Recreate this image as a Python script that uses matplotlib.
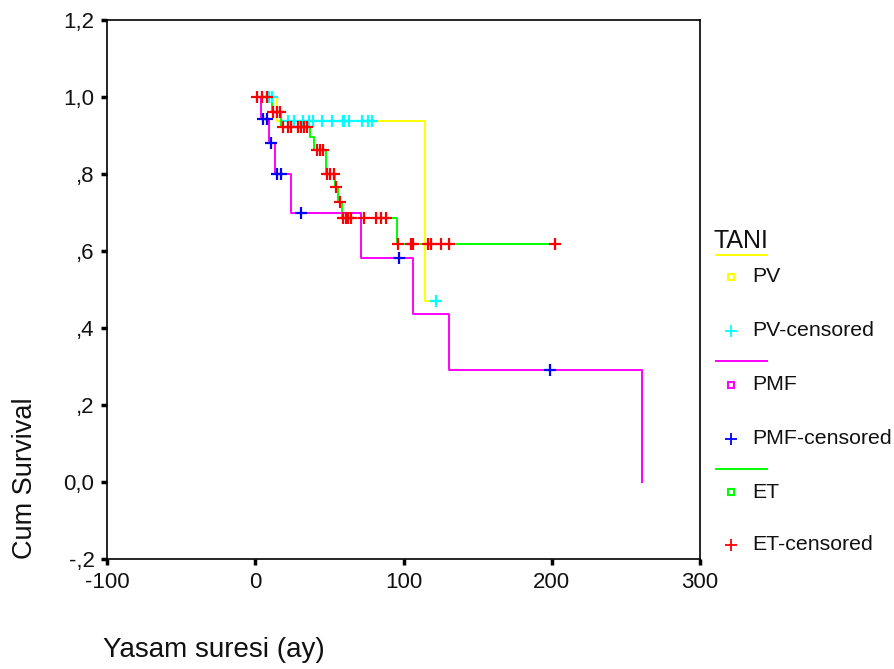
import numpy as np
import matplotlib
matplotlib.use("Agg")
import matplotlib.pyplot as plt

plt.rcParams['font.family'] = ['Liberation Sans', 'DejaVu Sans']

# ---- data (months, cumulative survival) ----
groups = ["PV", "PMF", "ET"]

pv_event_t = [15, 114.5]
pv_event_s = [0.9375, 0.469]
pv_cens_t = [9.5, 11, 22, 26, 32, 36, 39, 45, 52, 59, 60, 63, 72, 76, 79, 122]

pmf_event_t = [4, 9, 13, 24, 71.5, 106.5, 131, 261]
pmf_event_s = [0.944, 0.881, 0.80, 0.70, 0.583, 0.4375, 0.292, 0.0]
pmf_cens_t = [5.5, 8, 10.5, 15, 17.3, 31, 97, 199]

et_event_t = [11, 17.5, 37, 39.5, 47.5, 53.5, 56, 58.5, 95.5]
et_event_s = [0.962, 0.923, 0.896, 0.862, 0.80, 0.765, 0.727, 0.686, 0.618]
et_cens_t = [1.5, 4.5, 8, 12, 14.5, 16.5, 19, 22, 24, 28.5, 31, 33, 35,
             41.5, 43.5, 45.5, 48.5, 50.5, 53, 54.5, 57, 59.5, 61, 62.5,
             64.5, 73.5, 81.5, 85, 88, 96, 105, 106.5, 116.5, 118.5, 125.5,
             131, 202.5]

yticks = [-0.2, 0.0, 0.2, 0.4, 0.6, 0.8, 1.0, 1.2]
ytick_labels = ["-,2", "0,0", ",2", ",4", ",6", ",8", "1,0", "1,2"]
xticks = [-100, 0, 100, 200, 300]
xtick_labels = ["-100", "0", "100", "200", "300"]

line_colors = {"PV": "#FFFF00", "PMF": "#FF00FF", "ET": "#00FF00"}
cens_colors = {"PV": "#00FFFF", "PMF": "#0000FF", "ET": "#FF0000"}

data = {
    "PV": (pv_event_t, pv_event_s, pv_cens_t),
    "PMF": (pmf_event_t, pmf_event_s, pmf_cens_t),
    "ET": (et_event_t, et_event_s, et_cens_t),
}


def surv_at(t, ev_t, ev_s):
    idx = np.searchsorted(np.asarray(ev_t), np.asarray(t), side='right')
    s = np.concatenate([[1.0], np.asarray(ev_s)])
    return s[idx]


W, H = 894, 669
fig = plt.figure(figsize=(W / 100, H / 100), dpi=100)
L, R, T, B = 107, 700, 20, 559
ax = fig.add_axes([L / W, 1 - B / H, (R - L) / W, (B - T) / H])
ax.set_xlim(-100, 300)
ax.set_ylim(-0.2, 1.2)

for g in groups:
    ev_t, ev_s, c_t = data[g]
    end = max(max(ev_t), max(c_t))
    xs = [0] + list(ev_t) + [end]
    ys = [1.0] + list(ev_s) + [ev_s[-1]]
    ax.step(xs, ys, where='post', color=line_colors[g], lw=1.4, zorder=2)

for g in groups:
    ev_t, ev_s, c_t = data[g]
    ax.plot(c_t, surv_at(c_t, ev_t, ev_s), linestyle='none', marker='+',
            ms=8, mew=1.6, color=cens_colors[g], zorder=3)

ax.set_yticks(yticks)
ax.set_yticklabels(ytick_labels)
ax.set_xticks(xticks)
ax.set_xticklabels(xtick_labels)
ax.tick_params(direction='out', length=4, width=2.5, labelsize=16, pad=5,
               colors='black', labelcolor='#111111')
for sp in ax.spines.values():
    sp.set_linewidth(1.2)
    sp.set_color('black')

# axis titles (figure pixel positions)
fig.text(103 / W, 1 - 650 / H, "Yasam suresi (ay)", fontsize=20, ha='left',
         va='center', color='#111111')
fig.text(25 / W, 1 - 478 / H, "Cum Survival", fontsize=19.5, rotation=90,
         ha='center', va='center', color='#111111')

# legend drawn in a pixel-coordinate overlay
lax = fig.add_axes([0, 0, 1, 1], zorder=-1)
lax.set_xlim(0, W)
lax.set_ylim(H, 0)
lax.axis('off')
lax.text(714, 241, "TANI", fontsize=18, ha='left', va='center', color='#111111')
leg_rows = [("PV", 255, 277, 331), ("PMF", 361, 385, 439), ("ET", 469, 492, 545)]
for g, yl, ysq, yc in leg_rows:
    lax.plot([716, 767], [yl, yl], color=line_colors[g], lw=1.4)
    lax.plot([731], [ysq], marker='s', ms=5, mfc='none', mec=line_colors[g], mew=1.5)
    lax.text(752, ysq, g, fontsize=15.3, ha='left', va='center', color='#111111')
    lax.plot([731], [yc], marker='+', ms=8, mew=1.3, color=cens_colors[g])
    lax.text(752, yc, g + "-censored", fontsize=15.3, ha='left', va='center',
             color='#111111')

fig.savefig("out.png", dpi=100)
